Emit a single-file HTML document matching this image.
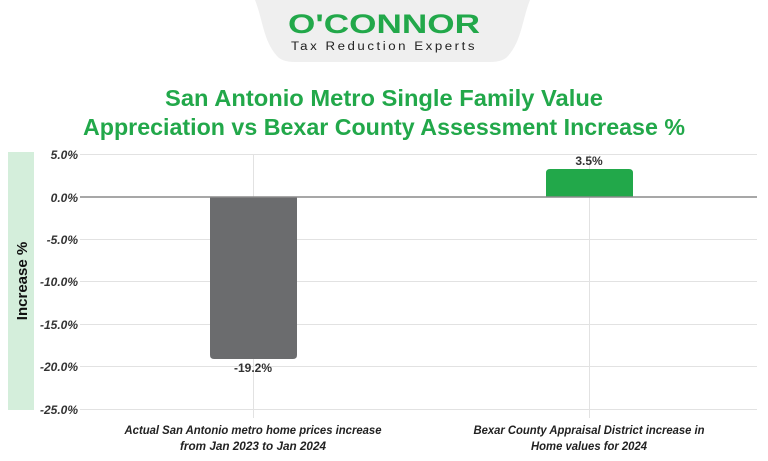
<!DOCTYPE html>
<html><head><meta charset="utf-8"><style>
html,body{margin:0;padding:0;background:#fff;}
svg{display:block;font-family:"Liberation Sans",Arial,sans-serif;}
</style></head><body>
<svg width="768" height="461" viewBox="0 0 768 461" xmlns="http://www.w3.org/2000/svg">
<rect width="768" height="461" fill="#fff"/>
<path d="M255 0 H530 C522 20 522 40 508 56 Q503 62 490 62 H295 Q282 62 277 56 C263 40 263 20 255 0 Z" fill="#efefef"/>
<text x="384" y="33" text-anchor="middle" font-size="27" font-weight="bold" fill="#22a84a" textLength="192" lengthAdjust="spacingAndGlyphs">O'CONNOR</text>
<text x="384" y="50" text-anchor="middle" font-size="11.5" fill="#222" letter-spacing="2.2" textLength="186" lengthAdjust="spacingAndGlyphs">Tax Reduction Experts</text>
<g font-size="23" font-weight="bold" fill="#22a84a" text-anchor="middle">
<text x="384" y="106" textLength="438" lengthAdjust="spacingAndGlyphs">San Antonio Metro Single Family Value</text>
<text x="384" y="135" textLength="602" lengthAdjust="spacingAndGlyphs">Appreciation vs Bexar County Assessment Increase %</text>
</g>
<rect x="8" y="152" width="26" height="258" fill="#d4eedb"/>
<text transform="translate(27,281) rotate(-90)" text-anchor="middle" font-size="15" font-weight="bold" fill="#111">Increase %</text>
<g stroke="#e2e2e2" stroke-width="1">
<line x1="80" y1="154.5" x2="757" y2="154.5"/>
<line x1="80" y1="239.5" x2="757" y2="239.5"/>
<line x1="80" y1="281.5" x2="757" y2="281.5"/>
<line x1="80" y1="324.5" x2="757" y2="324.5"/>
<line x1="80" y1="366.5" x2="757" y2="366.5"/>
<line x1="80" y1="409.5" x2="757" y2="409.5"/>
<line x1="253.5" y1="154" x2="253.5" y2="418"/>
<line x1="589.5" y1="154" x2="589.5" y2="418"/>
</g>
<path d="M210 197 H297 V355 Q297 359 293 359 H214 Q210 359 210 355 Z" fill="#6b6c6e"/>
<path d="M546 197 V173 Q546 169 550 169 H629 Q633 169 633 173 V197 Z" fill="#22a84a"/>
<line x1="80" y1="197" x2="757" y2="197" stroke="#8a8a8a" stroke-width="1.5"/>
<g font-size="12" font-weight="bold" font-style="italic" fill="#333" text-anchor="end">
<text x="78" y="159">5.0%</text>
<text x="78" y="202">0.0%</text>
<text x="78" y="244">-5.0%</text>
<text x="78" y="286">-10.0%</text>
<text x="78" y="329">-15.0%</text>
<text x="78" y="371">-20.0%</text>
<text x="78" y="414">-25.0%</text>
</g>
<g font-size="12" font-weight="bold" fill="#333" text-anchor="middle">
<text x="589" y="165">3.5%</text>
<text x="253" y="372">-19.2%</text>
</g>
<g font-size="12" font-weight="bold" font-style="italic" fill="#222" text-anchor="middle">
<text x="253" y="434" textLength="257" lengthAdjust="spacingAndGlyphs">Actual San Antonio metro home prices increase</text>
<text x="253" y="450" textLength="146" lengthAdjust="spacingAndGlyphs">from Jan 2023 to Jan 2024</text>
<text x="589" y="434" textLength="231" lengthAdjust="spacingAndGlyphs">Bexar County Appraisal District increase in</text>
<text x="589" y="450" textLength="116" lengthAdjust="spacingAndGlyphs">Home values for 2024</text>
</g>
</svg>
</body></html>
